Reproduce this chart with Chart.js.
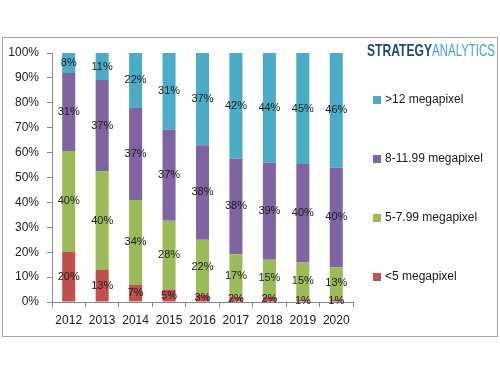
<!DOCTYPE html>
<html>
<head>
<meta charset="utf-8">
<script src="https://cdn.jsdelivr.net/npm/chart.js@4"></script>
<style>
  body { margin: 0; background: #fff; }
</style>
</head>
<body>
<canvas id="chart" width="500" height="375"></canvas>
<script>
const years = ["2012", "2013", "2014", "2015", "2016", "2017", "2018", "2019", "2020"];
const under5 = [20, 13, 7, 5, 3, 2, 2, 1, 1];
const from5to8 = [40, 40, 34, 28, 22, 17, 15, 15, 13];
const from8to12 = [31, 37, 37, 37, 38, 38, 39, 40, 40];
const over12 = [8, 11, 22, 31, 37, 42, 44, 45, 46];
const seriesNames = ["<5 megapixel", "5-7.99 megapixel", "8-11.99 megapixel", ">12 megapixel"];
const yTickStep = 10;

const colors = ["#c0504d", "#9bbb59", "#8064a2", "#4bacc6"];
const raw = [under5, from5to8, from8to12, over12];

// 100% stacked: each year scaled to its own total
const totals = years.map((_, i) => raw.reduce((s, arr) => s + arr[i], 0));
const shares = raw.map(arr => arr.map((v, i) => v / totals[i] * 100));

const fontFam = "'Liberation Sans', Arial, sans-serif";

const framePlugin = {
    id: "frame",
    beforeDraw(chart) {
        const ctx = chart.ctx;
        ctx.save();
        ctx.fillStyle = "#fff";
        ctx.fillRect(0, 0, chart.width, chart.height);
        ctx.strokeStyle = "#a6a6a6";
        ctx.lineWidth = 1;
        ctx.strokeRect(2.5, 37.5, 495, 299);
        ctx.restore();
    },
};

const labelPlugin = {
    id: "segLabels",
    afterDatasetsDraw(chart) {
        const ctx = chart.ctx;
        ctx.save();
        ctx.font = "11px " + fontFam;
        ctx.fillStyle = "#1a1a1a";
        ctx.textAlign = "center";
        ctx.textBaseline = "middle";
        chart.data.datasets.forEach((ds, d) => {
            chart.getDatasetMeta(d).data.forEach((bar, i) => {
                const mid = (bar.y + bar.base) / 2;
                ctx.fillText(raw[d][i] + "%", bar.x, mid);
            });
        });
        ctx.restore();
    },
};

function squeezedText(ctx, text, font, color, x, y, width) {
    ctx.save();
    ctx.font = font;
    const w = ctx.measureText(text).width;
    ctx.translate(x, y);
    ctx.scale(width / w, 1);
    ctx.fillStyle = color;
    ctx.fillText(text, 0, 0);
    ctx.restore();
}

const sidePlugin = {
    id: "side",
    afterDraw(chart) {
        const ctx = chart.ctx;
        const area = chart.chartArea;
        ctx.save();
        // logo
        ctx.textBaseline = "middle";
        ctx.textAlign = "left";
        squeezedText(ctx, "STRATEGY", "bold 17px " + fontFam, "#21467a", 367, 51, 65);
        squeezedText(ctx, "ANALYTICS", "17px " + fontFam, "#3fa3c6", 432, 51, 63);
        ctx.restore();

        // legend, top to bottom in reverse stack order
        ctx.save();
        ctx.font = "12px " + fontFam;
        ctx.textBaseline = "middle";
        for (let k = 0; k < 4; k++) {
            const d = 3 - k;
            const y = area.top + 47 + k * 59;
            ctx.fillStyle = colors[d];
            ctx.fillRect(373, y - 4, 8, 8);
            ctx.fillStyle = "#1a1a1a";
            ctx.fillText(seriesNames[d], 385, y);
        }
        ctx.restore();
    },
};

new Chart(document.getElementById("chart").getContext("2d"), {
    type: "bar",
    data: {
        labels: years,
        datasets: seriesNames.map((name, d) => ({
            label: name,
            data: shares[d],
            backgroundColor: colors[d],
            categoryPercentage: 1,
            barPercentage: 0.39,
        })),
    },
    options: {
        responsive: false,
        animation: false,
        layout: {
            padding: { left: 0, top: 53, right: 147, bottom: 43 },
        },
        plugins: {
            legend: { display: false },
            tooltip: { enabled: false },
        },
        scales: {
            x: {
                stacked: true,
                afterFit(scale) { scale.height = 30; },
                grid: {
                    offset: true,
                    drawOnChartArea: false,
                    tickLength: 5,
                    color: "#868686",
                },
                border: { color: "#868686" },
                ticks: {
                    color: "#1a1a1a",
                    font: { family: fontFam, size: 12 },
                    padding: 6,
                },
            },
            y: {
                stacked: true,
                min: 0,
                max: 100,
                afterFit(scale) { scale.width = 52; },
                grid: {
                    drawOnChartArea: false,
                    tickLength: 5,
                    color: "#868686",
                },
                border: { color: "#868686" },
                ticks: {
                    stepSize: yTickStep,
                    color: "#1a1a1a",
                    font: { family: fontFam, size: 12 },
                    padding: 8,
                    callback: function (value) {
                        return value + "%";
                    },
                },
            },
        },
    },
    plugins: [framePlugin, labelPlugin, sidePlugin],
});
</script>
</body>
</html>
